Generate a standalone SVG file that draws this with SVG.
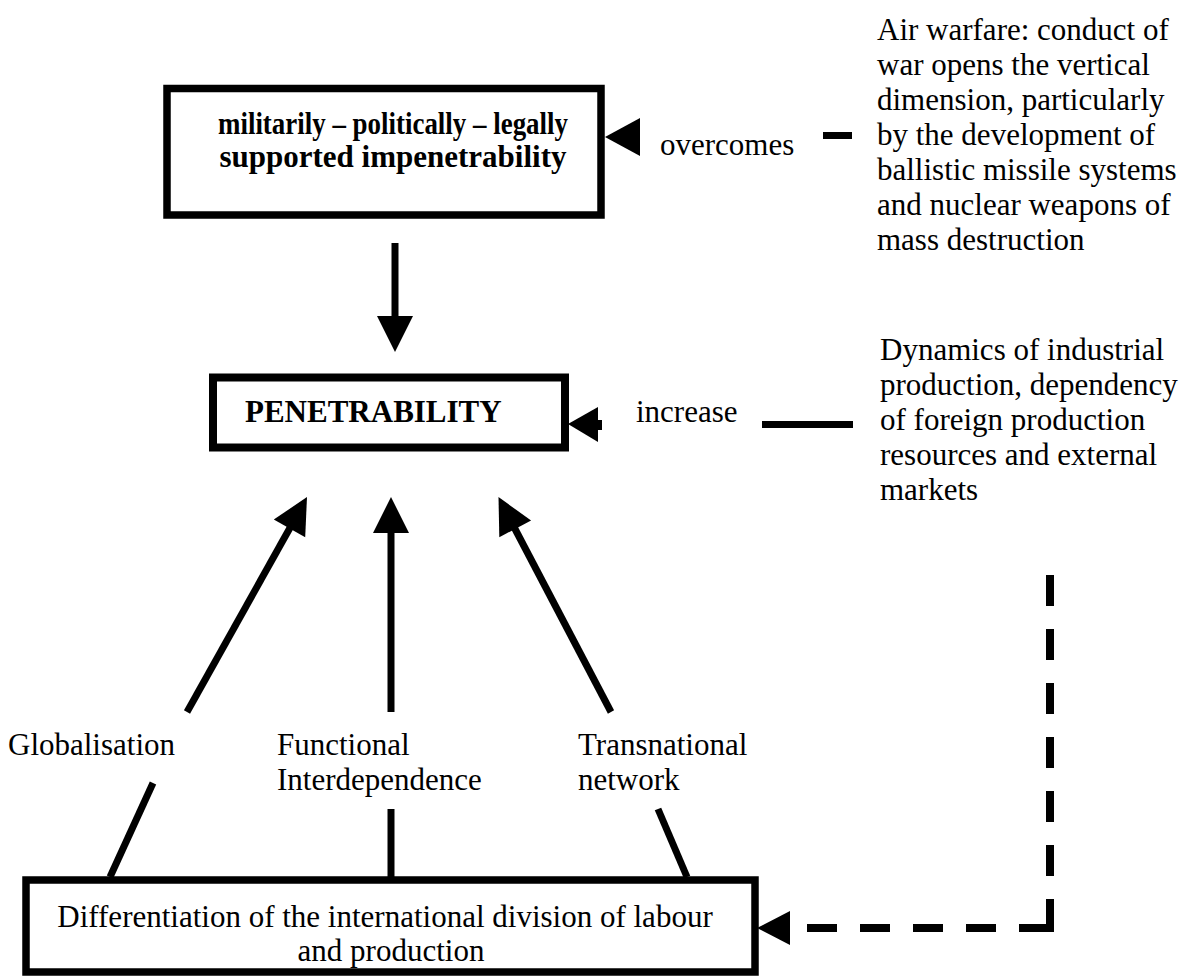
<svg xmlns="http://www.w3.org/2000/svg" width="1201" height="976" viewBox="0 0 1201 976">
<style>
  .box { fill: #fff; stroke: #000; stroke-width: 7.5; }
  .t { font-family: "Liberation Serif", "Times New Roman", serif; font-size: 31px; fill: #000; }
  .b { font-weight: bold; }
  .ln { stroke: #000; stroke-width: 7; fill: none; }
  .hd { fill: #000; stroke: none; }
  .dash { stroke: #000; stroke-width: 8; fill: none; stroke-dasharray: 31 23 31 23 31 23 31 23 31 23 31 23 60 23 30 23 30 23 30 23 30; }
</style>
<rect width="1201" height="976" fill="#fff"/>

<g id="node-impenetrability">
  <rect class="box" x="167" y="88.5" width="434" height="126.5"/>
  <text class="t b" x="393" y="134" text-anchor="middle" font-size="28" textLength="350" lengthAdjust="spacingAndGlyphs">militarily – politically – legally</text>
  <text class="t b" x="393" y="167" text-anchor="middle" font-size="29" textLength="347" lengthAdjust="spacing">supported impenetrability</text>
</g>

<g id="node-penetrability">
  <rect class="box" x="213" y="377.5" width="352" height="70" style="stroke-width:8"/>
  <text class="t b" x="245" y="422">PENETRABILITY</text>
</g>

<g id="node-differentiation">
  <rect class="box" x="26" y="880" width="729" height="92"/>
  <text class="t" x="385" y="927" text-anchor="middle" font-size="33">Differentiation of the international division of labour</text>
  <text class="t" x="391" y="961" text-anchor="middle" font-size="33">and production</text>
</g>

<g id="node-air-warfare">
  <text class="t" x="877" y="40">Air warfare: conduct of</text>
  <text class="t" x="877" y="75">war opens the vertical</text>
  <text class="t" x="877" y="110">dimension, particularly</text>
  <text class="t" x="877" y="145">by the development of</text>
  <text class="t" x="877" y="180">ballistic missile systems</text>
  <text class="t" x="877" y="215">and nuclear weapons of</text>
  <text class="t" x="877" y="250">mass destruction</text>
</g>

<g id="node-dynamics">
  <text class="t" x="880" y="360">Dynamics of industrial</text>
  <text class="t" x="880" y="395">production, dependency</text>
  <text class="t" x="880" y="430">of foreign production</text>
  <text class="t" x="880" y="465">resources and external</text>
  <text class="t" x="880" y="500">markets</text>
</g>

<g id="connectors">
  <!-- impenetrability -> penetrability -->
  <line class="ln" x1="395" y1="243" x2="395" y2="318"/>
  <polygon class="hd" points="377,316 413,316 395,352"/>
  <!-- air warfare overcomes impenetrability -->
  <line class="ln" x1="823" y1="135.5" x2="852" y2="135.5"/>
  <polygon class="hd" points="605,137 640,118 640,156"/>
  <!-- dynamics increase penetrability -->
  <line class="ln" x1="762" y1="424.5" x2="853" y2="424.5"/>
  <line x1="597" y1="425" x2="602" y2="425" stroke="#000" stroke-width="10"/>
  <polygon class="hd" points="568,424 598,407 598,442"/>
  <!-- globalisation -->
  <line class="ln" x1="110" y1="877" x2="153" y2="783"/>
  <line class="ln" x1="187" y1="712" x2="291" y2="526"/>
  <polygon class="hd" points="307,497 273.8,519.6 305.2,537.2"/>
  <!-- functional interdependence -->
  <line class="ln" x1="391" y1="877" x2="391" y2="809"/>
  <line class="ln" x1="391" y1="712" x2="391" y2="530"/>
  <polygon class="hd" points="391,497 373,533 409,533"/>
  <!-- transnational network -->
  <line class="ln" x1="687" y1="877" x2="658" y2="809"/>
  <line class="ln" x1="611" y1="712" x2="514" y2="527"/>
  <polygon class="hd" points="498.5,497 531.1,520.6 499.3,537.2"/>
  <!-- dashed feedback -->
  <path class="dash" d="M1050,575 V928 H790"/>
  <polygon class="hd" points="757,928 790,911 790,945"/>
</g>

<g id="labels">
  <text class="t" x="660" y="155">overcomes</text>
  <text class="t" x="636" y="422">increase</text>
  <text class="t" x="8" y="755">Globalisation</text>
  <text class="t" x="277" y="755">Functional</text>
  <text class="t" x="277" y="790">Interdependence</text>
  <text class="t" x="578" y="755">Transnational</text>
  <text class="t" x="578" y="790">network</text>
</g>
</svg>
